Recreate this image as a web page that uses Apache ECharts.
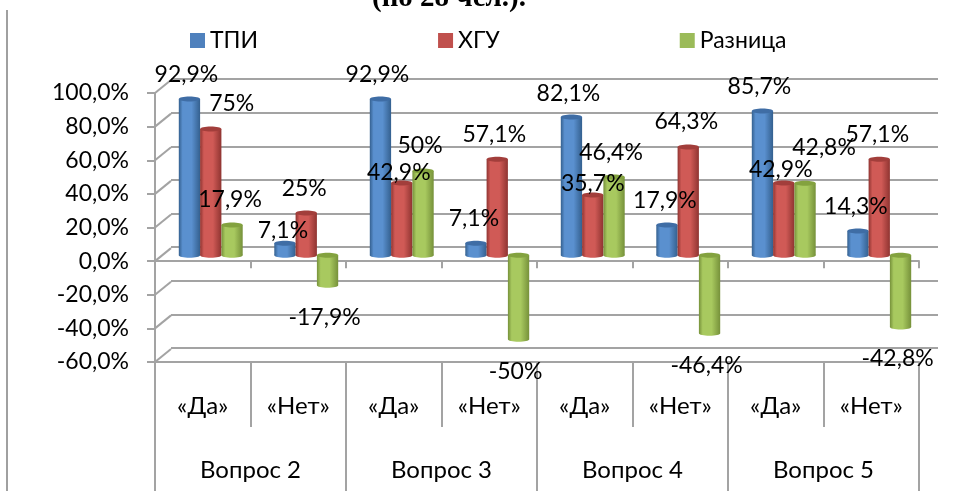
<!DOCTYPE html>
<html><head><meta charset="utf-8">
<style>html,body{margin:0;padding:0;background:#fff}#c{width:953px;height:491px}</style>
<script src="https://cdn.jsdelivr.net/npm/echarts@6/dist/echarts.min.js"></script>
</head><body><div id="c"></div>
<script>
const answers = ['«Да»','«Нет»','«Да»','«Нет»','«Да»','«Нет»','«Да»','«Нет»'];
const questions = ['Вопрос 2','Вопрос 3','Вопрос 4','Вопрос 5'];
const seriesNames = ['ТПИ','ХГУ','Разница'];
const tpi = [92.9,7.1,92.9,7.1,82.1,17.9,85.7,14.3];
const hgu = [75,25,42.9,57.1,35.7,64.3,42.9,57.1];
const diff = [17.9,-17.9,50,-50,46.4,-46.4,42.8,-42.8];
const labelsTpi = ['92,9%','7,1%','92,9%','7,1%','82,1%','17,9%','85,7%','14,3%'];
const labelsHgu = ['75%','25%','42,9%','57,1%','35,7%','64,3%','42,9%','57,1%'];
const labelsDiff = ['17,9%','-17,9%','50%','-50%','46,4%','-46,4%','42,8%','-42,8%'];
const ticks = [-60,-40,-20,0,20,40,60,80,100];

const FONT = '"Lato","Open Sans"';
const FS = 23;
const GREY = '#a3a3a3';
const palettes = [
 {edge:'#34608f', mid:'#5a90cf', cap:'#3f6da5', legend:'#4f81bd'},
 {edge:'#8f3431', mid:'#d05a56', cap:'#a23e3b', legend:'#c0504d'},
 {edge:'#76913a', mid:'#a8c95f', cap:'#83a23f', legend:'#9bbb59'}
];
// Label placement relative to each bar end: [dx, dy] per category, per series
const labelNudge = [
 [[-3,-24],[-2,-13],[-3,-24],[-2,-25],[-3,-24],[-2,-24],[-3,-24],[-2,-25]],
 [[21,-25],[-2,-25],[-3,-10],[-3,-25],[0,-12],[-2,-25],[-3,-13],[-2,-25]],
 [[-2,-25],[-3,32],[-3,-25],[-3,32],[-3,-25],[-3,32],[19,-36],[-3,31]]
];
const DEPTH = [16,-13], MID = [8,-6], BAR_W = 21.3, RY = 2.5;

function cylinder(seriesIdx, labels){
  return function(params, api){
    const i = api.value(0), v = api.value(1);
    const top = api.coord([i, v]), base = api.coord([i, 0]);
    const p = palettes[seriesIdx];
    const x = base[0] + MID[0] + (seriesIdx - 1.5) * BAR_W;
    const y0 = base[1] + MID[1], y1 = top[1] + MID[1];
    const upper = Math.min(y0,y1), lower = Math.max(y0,y1);
    const grad = new echarts.graphic.LinearGradient(0,0,1,0,[
      {offset:0,color:p.edge},{offset:.18,color:p.mid},{offset:.6,color:p.mid},{offset:1,color:p.edge}]);
    const nudge = labelNudge[seriesIdx][i];
    return {type:'group', children:[
      {type:'ellipse', shape:{cx:x+BAR_W/2, cy:lower, rx:BAR_W/2, ry:RY}, style:{fill:grad}},
      {type:'rect', shape:{x:x, y:upper, width:BAR_W, height:lower-upper}, style:{fill:grad}},
      {type:'ellipse', shape:{cx:x+BAR_W/2, cy:upper, rx:BAR_W/2, ry:RY}, style:{fill:p.cap}},
      {type:'text', z2:100, style:{text:labels[i], x:x+BAR_W/2+nudge[0], y:(v<0?lower:upper)+nudge[1],
        align:'center', verticalAlign:'middle', fill:'#000', font:FS+'px '+FONT}}
    ]};
  };
}
function depthLines(params, api){
  const p = api.coord([0, api.value(0)]);
  const x = params.coordSys.x;
  return {type:'line', shape:{x1:x,y1:p[1],x2:x+DEPTH[0],y2:p[1]+DEPTH[1]}, style:{stroke:GREY,lineWidth:2}};
}
const chart = echarts.init(document.getElementById('c'), null, {renderer:'canvas'});
const bars = [tpi,hgu,diff].map((arr,k)=>({
  name: seriesNames[k], type:'custom', xAxisIndex:0, yAxisIndex:0, z:5, clip:false,
  itemStyle:{color:palettes[k].legend},
  renderItem: cylinder(k,[labelsTpi,labelsHgu,labelsDiff][k]),
  encode:{x:0,y:1},
  data: arr.map((v,i)=>[i,v])
}));
chart.setOption({
  animation:false,
  backgroundColor:'#fff',
  textStyle:{fontFamily:FONT,color:'#000'},
  title:{text:'(по 28 чел.).', left:367, top:-21, textStyle:{fontFamily:'"Liberation Serif"',fontWeight:'bold',fontSize:29,color:'#000'}},
  legend:{left:185, top:24, itemWidth:15, itemHeight:15, itemGap:180, icon:'rect',
    data:seriesNames, textStyle:{fontFamily:FONT,fontSize:FS,color:'#000'}},
  graphic:[{type:'line', shape:{x1:7,y1:10,x2:7,y2:491}, style:{stroke:'#a0a0a0',lineWidth:2}, silent:true}],
  grid:[
    {left:155, top:93, width:764, height:269},
    {left:171, top:79, width:767, height:269}
  ],
  xAxis:[
    {type:'category', gridIndex:0, data:answers, boundaryGap:true,
     axisLine:{onZero:true,lineStyle:{color:GREY,width:2}},
     axisTick:{show:true,length:7,alignWithLabel:false,lineStyle:{color:GREY,width:2}},
     axisLabel:{show:false}},
    {type:'category', gridIndex:0, data:answers, position:'bottom',
     axisLine:{onZero:false,lineStyle:{color:GREY,width:2}},
     axisTick:{show:true,length:65,lineStyle:{color:GREY,width:2}},
     axisLabel:{show:true,margin:32,fontFamily:FONT,fontSize:24,color:'#000'}},
    {type:'category', gridIndex:0, data:questions, position:'bottom',
     axisLine:{onZero:false,show:false},
     axisTick:{show:true,length:130,lineStyle:{color:GREY,width:2}},
     axisLabel:{show:true,margin:96,fontFamily:FONT,fontSize:24,color:'#000'}},
    {type:'category', gridIndex:1, data:answers, show:false}
  ],
  yAxis:[
    {type:'value', gridIndex:0, min:-60, max:100, interval:20,
     axisLine:{show:true,onZero:false,lineStyle:{color:GREY,width:2}},
     axisTick:{show:true,length:8,lineStyle:{color:GREY,width:2}},
     splitLine:{show:false},
     axisLabel:{formatter:v=>v.toFixed(1).replace('.',',')+'%',fontFamily:FONT,fontSize:FS,color:'#000',margin:26}},
    {type:'value', gridIndex:1, min:-60, max:100, interval:20, position:'left',
     axisLine:{show:false}, axisTick:{show:false}, axisLabel:{show:false},
     splitLine:{show:true,lineStyle:{color:GREY,width:2}}}
  ],
  series:[
    {type:'custom', xAxisIndex:0, yAxisIndex:0, z:1, clip:false, tooltip:{show:false}, renderItem:depthLines, encode:{y:0}, data:ticks.map(t=>[t])},
    ...bars
  ]
});
</script></body></html>
